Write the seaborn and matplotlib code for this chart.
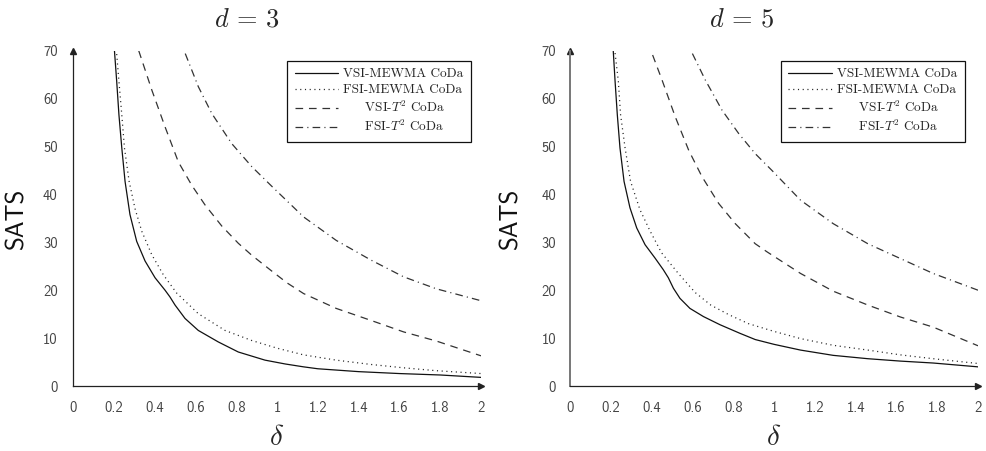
import pandas as pd
import seaborn as sns
import matplotlib.pyplot as plt

# ---- data (SATS vs delta) ----
x_ticks = [0, 0.2, 0.4, 0.6, 0.8, 1, 1.2, 1.4, 1.6, 1.8, 2]
x_tick_labels = ["0", "0.2", "0.4", "0.6", "0.8", "1", "1.2", "1.4", "1.6", "1.8", "2"]
y_ticks = [0, 10, 20, 30, 40, 50, 60, 70]
y_tick_labels = ["0", "10", "20", "30", "40", "50", "60", "70"]

series_names = ["VSI-MEWMA CoDa", "FSI-MEWMA CoDa", "VSI-$T^2$ CoDa", "FSI-$T^2$ CoDa"]
panel_titles = [r"$d\,=\,3$", r"$d\,=\,5$"]

# d = 3
d3_vsi_mewma_x = [0.203, 0.214, 0.225, 0.239, 0.255, 0.279, 0.312, 0.353, 0.402, 0.451, 0.475, 0.500,
                  0.549, 0.614, 0.712, 0.810, 0.941, 1.04, 1.13, 1.2, 1.4, 1.6, 1.8, 2.0]
d3_vsi_mewma_y = [70, 63.6, 56.6, 49.7, 42.7, 35.8, 30.2, 26.1, 22.6, 20.0, 18.6, 16.9,
                  14.1, 11.6, 9.2, 7.1, 5.4, 4.6, 4.0, 3.6, 3.0, 2.6, 2.3, 1.8]
d3_fsi_mewma_x = [0.214, 0.225, 0.239, 0.252, 0.275, 0.304, 0.337, 0.386, 0.443, 0.508, 0.614, 0.745,
                  0.876, 1.0, 1.13, 1.29, 1.46, 1.62, 1.78, 2.0]
d3_fsi_mewma_y = [69.3, 63.6, 56.6, 49.7, 42.7, 37.0, 32.3, 27.4, 23.2, 19.4, 15.1, 11.6,
                  9.5, 7.9, 6.5, 5.4, 4.5, 3.8, 3.2, 2.6]
d3_vsi_t2_x = [0.322, 0.386, 0.451, 0.516, 0.582, 0.647, 0.729, 0.81, 0.876, 0.974, 1.05, 1.13,
               1.29, 1.46, 1.62, 1.78, 2.0]
d3_vsi_t2_y = [70.0, 61.8, 54.1, 46.8, 41.9, 37.8, 33.4, 29.8, 27.3, 24.0, 21.5, 19.3,
               16.2, 13.7, 11.3, 9.4, 6.3]
d3_fsi_t2_x = [0.55, 0.614, 0.68, 0.778, 0.876, 0.974, 1.13, 1.29, 1.46, 1.62, 1.78, 2.0]
d3_fsi_t2_y = [69.4, 62.5, 56.9, 50.6, 45.8, 41.7, 35.3, 30.4, 26.3, 22.8, 20.3, 17.8]

# d = 5
d5_vsi_mewma_x = [0.212, 0.221, 0.232, 0.245, 0.265, 0.294, 0.327, 0.368, 0.417, 0.457, 0.482, 0.507,
                  0.539, 0.588, 0.654, 0.735, 0.833, 0.908, 1.0, 1.13, 1.29, 1.46, 1.62, 1.78, 2.0]
d5_vsi_mewma_y = [70, 63.6, 56.6, 49.7, 42.7, 37.2, 33.0, 29.5, 26.7, 24.3, 22.6, 20.4,
                  18.3, 16.2, 14.5, 12.8, 11.0, 9.7, 8.7, 7.5, 6.4, 5.7, 5.2, 4.8, 4.0]
d5_fsi_mewma_x = [0.221, 0.237, 0.248, 0.270, 0.297, 0.343, 0.392, 0.449, 0.531, 0.614, 0.69, 0.778,
                  0.876, 1.0, 1.13, 1.29, 1.46, 1.62, 1.78, 2.0]
d5_fsi_mewma_y = [69.5, 63.6, 56.6, 49.7, 42.7, 36.8, 32.4, 27.8, 23.5, 19.5, 16.9, 14.9,
                  13.0, 11.4, 9.9, 8.5, 7.5, 6.5, 5.7, 4.7]
d5_vsi_t2_x = [0.405, 0.451, 0.516, 0.582, 0.647, 0.729, 0.81, 0.908, 0.966, 1.13, 1.29, 1.46,
               1.62, 1.78, 2.0]
d5_vsi_t2_y = [69.1, 63.9, 56.2, 49.2, 43.7, 38.1, 33.9, 29.7, 28.0, 23.5, 19.8, 16.9,
               14.4, 12.3, 8.4]
d5_fsi_t2_x = [0.60, 0.663, 0.745, 0.827, 0.908, 0.99, 1.13, 1.29, 1.46, 1.62, 1.78, 2.0]
d5_fsi_t2_y = [69.4, 63.9, 57.6, 52.7, 48.5, 45.0, 38.8, 33.9, 29.7, 26.6, 23.5, 20.0]

panels = [
    [(d3_vsi_mewma_x, d3_vsi_mewma_y), (d3_fsi_mewma_x, d3_fsi_mewma_y),
     (d3_vsi_t2_x, d3_vsi_t2_y), (d3_fsi_t2_x, d3_fsi_t2_y)],
    [(d5_vsi_mewma_x, d5_vsi_mewma_y), (d5_fsi_mewma_x, d5_fsi_mewma_y),
     (d5_vsi_t2_x, d5_vsi_t2_y), (d5_fsi_t2_x, d5_fsi_t2_y)],
]

# ---- styling ----
sns.set_style("white")
plt.rcParams["mathtext.fontset"] = "cm"
plt.rcParams["lines.scale_dashes"] = False

line_styles = [
    dict(color="#111111", linewidth=0.9, linestyle="-"),
    dict(color="#222222", linewidth=0.9, linestyle=(0, (0.8, 2.6))),
    dict(color="#333333", linewidth=0.9, linestyle=(0, (5.5, 4.2))),
    dict(color="#333333", linewidth=0.9, linestyle=(0, (5.5, 3.0, 0.8, 3.0))),
]
# legend text is centred in the reference: pad the shorter labels
legend_pad = ["", "", "     ", "     "]

fig = plt.figure(figsize=(9.87, 4.51), dpi=100)
axes = [fig.add_axes([0.074, 0.1441, 0.4134, 0.7435]),
        fig.add_axes([0.5775, 0.1441, 0.4134, 0.7435])]
title_x = [247 / 987, 742 / 987]
legend_anchor = [(0.975, 0.97), (0.967, 0.97)]

for i, ax in enumerate(axes):
    handles = []
    for (xs, ys), st in zip(panels[i], line_styles):
        df = pd.DataFrame({"delta": xs, "SATS": ys})
        sns.lineplot(data=df, x="delta", y="SATS", ax=ax, sort=False, estimator=None, **st)
        handles.append(ax.lines[-1])
    ax.set_xlim(0, 2)
    ax.set_ylim(0, 70)

    ax.set_xticks(x_ticks)
    ax.set_xticklabels(x_tick_labels, family="cmss10", fontsize=10.5, color="#444444")
    ax.set_yticks(y_ticks)
    ax.set_yticklabels(y_tick_labels, family="cmss10", fontsize=10.5, color="#444444")

    for side in ["top", "right"]:
        ax.spines[side].set_visible(False)
    ax.spines["bottom"].set_color("#222222")
    ax.spines["bottom"].set_linewidth(0.9)
    if i == 0:
        ax.spines["left"].set_color("#222222")
        ax.spines["left"].set_linewidth(0.9)
        ax.tick_params(axis="x", direction="inout", length=6, width=0.8, color="#999999", pad=8)
        ax.tick_params(axis="y", length=0, pad=11)
    else:
        ax.spines["left"].set_color("#777777")
        ax.spines["left"].set_linewidth(1.4)
        ax.tick_params(axis="x", length=0, pad=11)
        ax.tick_params(axis="y", direction="inout", length=8, width=0.8, color="#aaaaaa", pad=6)

    # arrow heads at the axis ends
    ax.plot(1, 0, ">", color="#222222", ms=5, transform=ax.transAxes, clip_on=False)
    ax.plot(0, 1, "^", color="#222222", ms=5, transform=ax.transAxes, clip_on=False)

    ax.set_xlabel(r"$\delta$", fontsize=21, va="center")
    ax.xaxis.set_label_coords(0.5, -0.152)
    ax.set_ylabel("SATS", family="cmss10", fontsize=18, va="center", color="#111111")
    ax.yaxis.set_label_coords(-0.137 if i == 0 else -0.145, 0.5)

    leg = ax.legend(handles, [p + n for p, n in zip(legend_pad, series_names)],
                    loc="upper right", bbox_to_anchor=legend_anchor[i], borderaxespad=0,
                    prop={"family": "cmr10", "size": 9.5}, handlelength=3.3,
                    handletextpad=0.4, labelspacing=0.28, borderpad=0.55,
                    fancybox=False, framealpha=1, edgecolor="#111111")
    leg.get_frame().set_linewidth(0.9)

    fig.text(title_x[i], 0.956, panel_titles[i], fontsize=19, ha="center", va="center")

fig.savefig("out.png", dpi=100)
